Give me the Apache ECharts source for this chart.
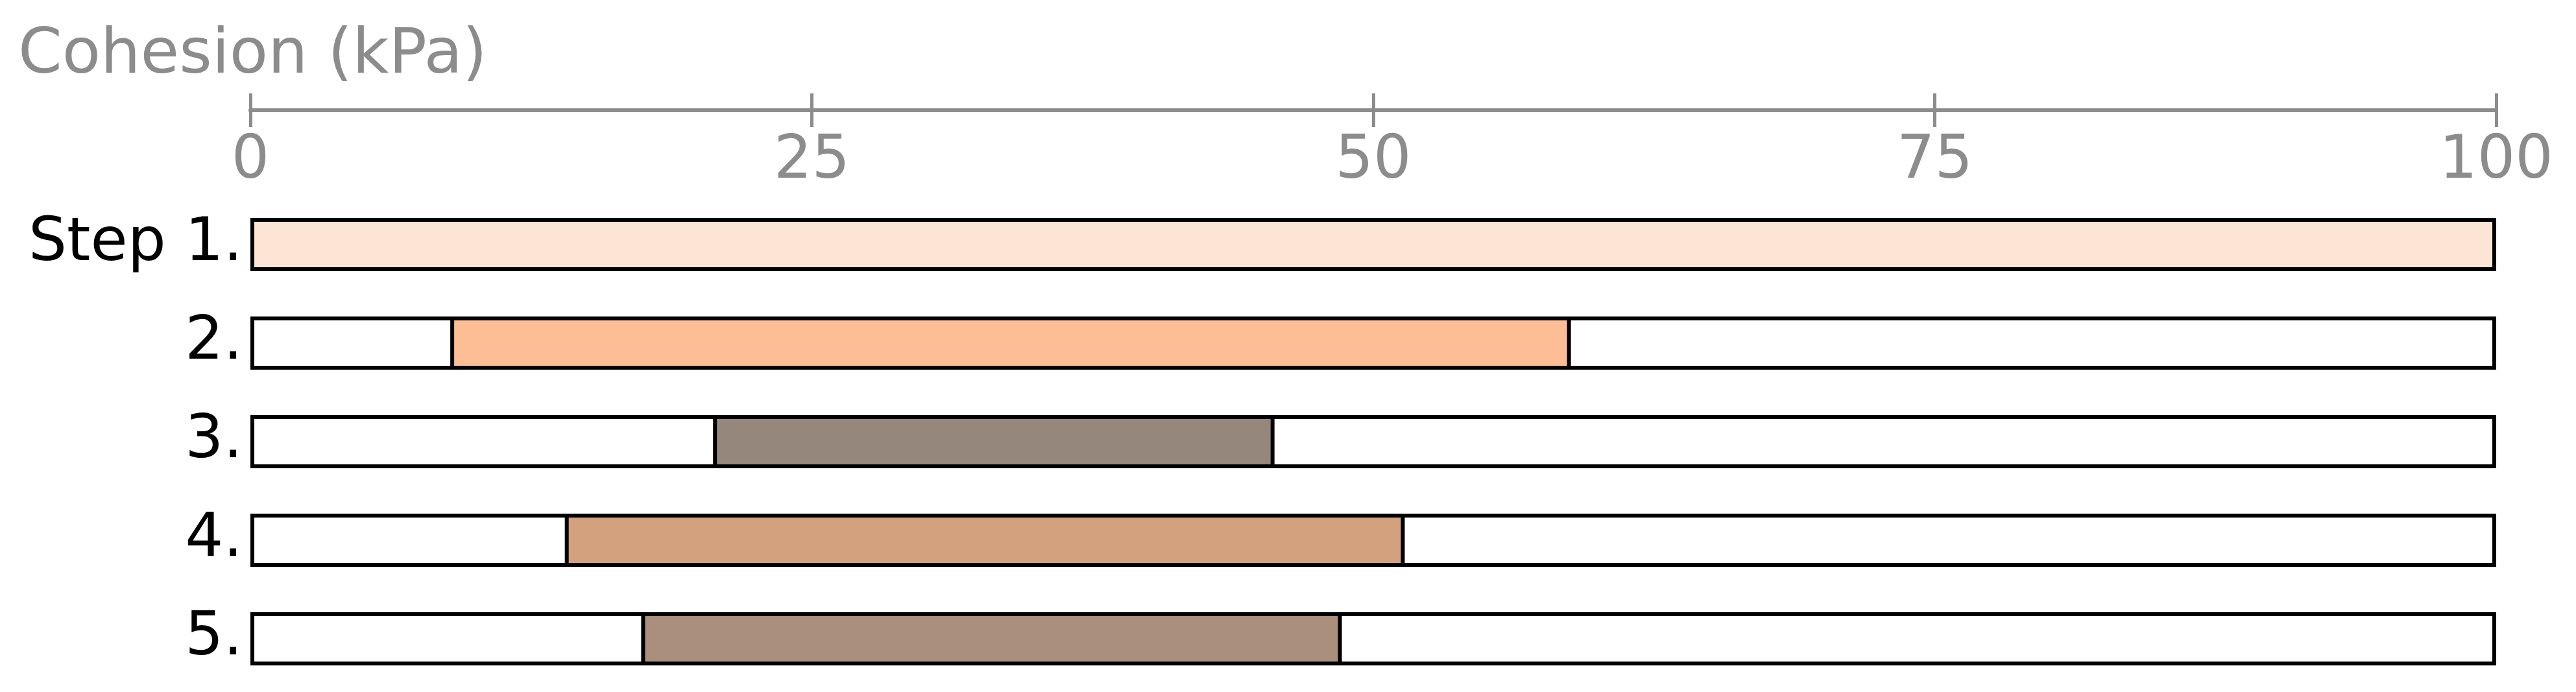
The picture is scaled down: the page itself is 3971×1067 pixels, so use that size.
<!DOCTYPE html>
<html><head><meta charset="utf-8">
<script src="https://cdn.jsdelivr.net/npm/echarts@6/dist/echarts.min.js"></script>
<style>html,body{margin:0;padding:0;background:#fff}#c{width:3971px;height:1067px}</style>
</head><body><div id="c"></div>
<script>
const categories = ['Step 1.', '2.', '3.', '4.', '5.'];
const rangeStart = [0, 8.9, 20.6, 14.0, 17.4];
const rangeEnd = [100, 58.8, 45.6, 51.4, 48.6];
const fullRange = [100, 100, 100, 100, 100];
const colors = ['#fde5d6', '#fdbd95', '#95877b', '#d4a17e', '#aa8f7c'];

const axisBase = {
  type: 'value', position: 'top', offset: 131, min: 0, max: 100, interval: 25,
  axisLine: { show: true, lineStyle: { color: '#8c8c8c', width: 6 } },
  splitLine: { show: false }
};
const chart = echarts.init(document.getElementById('c'));
chart.setOption({
  animation: false,
  grid: { left: 386, right: 123, top: 301, bottom: 6 },
  graphic: [{ type: 'text', left: 28, top: 38, style: { text: 'Cohesion (kPa)', fontFamily: 'DejaVu Sans', fontSize: 97, fill: '#8c8c8c' } }],
  xAxis: [
    Object.assign({}, axisBase, {
      axisTick: { show: true, length: 26, lineStyle: { color: '#8c8c8c', width: 5 } },
      axisLabel: { inside: true, margin: 34, color: '#8c8c8c', fontSize: 92, fontFamily: 'DejaVu Sans', verticalAlign: 'top' }
    }),
    Object.assign({}, axisBase, {
      axisTick: { show: true, inside: true, length: 26, lineStyle: { color: '#8c8c8c', width: 5 } },
      axisLabel: { show: false }
    })
  ],
  yAxis: {
    type: 'category', data: categories, inverse: true,
    axisLine: { show: false }, axisTick: { show: false },
    axisLabel: { color: '#000', fontSize: 93, fontFamily: 'DejaVu Sans', margin: 12 }
  },
  series: [
    { type: 'bar', data: fullRange, barWidth: 82, barGap: '-100%', z: 1,
      itemStyle: { color: '#fff', borderColor: '#000', borderWidth: 6 } },
    { type: 'bar', stack: 'r', data: rangeStart, barWidth: 82, z: 2,
      itemStyle: { color: 'transparent' } },
    { type: 'bar', stack: 'r', z: 3, barWidth: 82,
      data: rangeEnd.map((e, i) => ({ value: e - rangeStart[i], itemStyle: { color: colors[i] } })),
      itemStyle: { borderColor: '#000', borderWidth: 6 } }
  ]
});
</script></body></html>
